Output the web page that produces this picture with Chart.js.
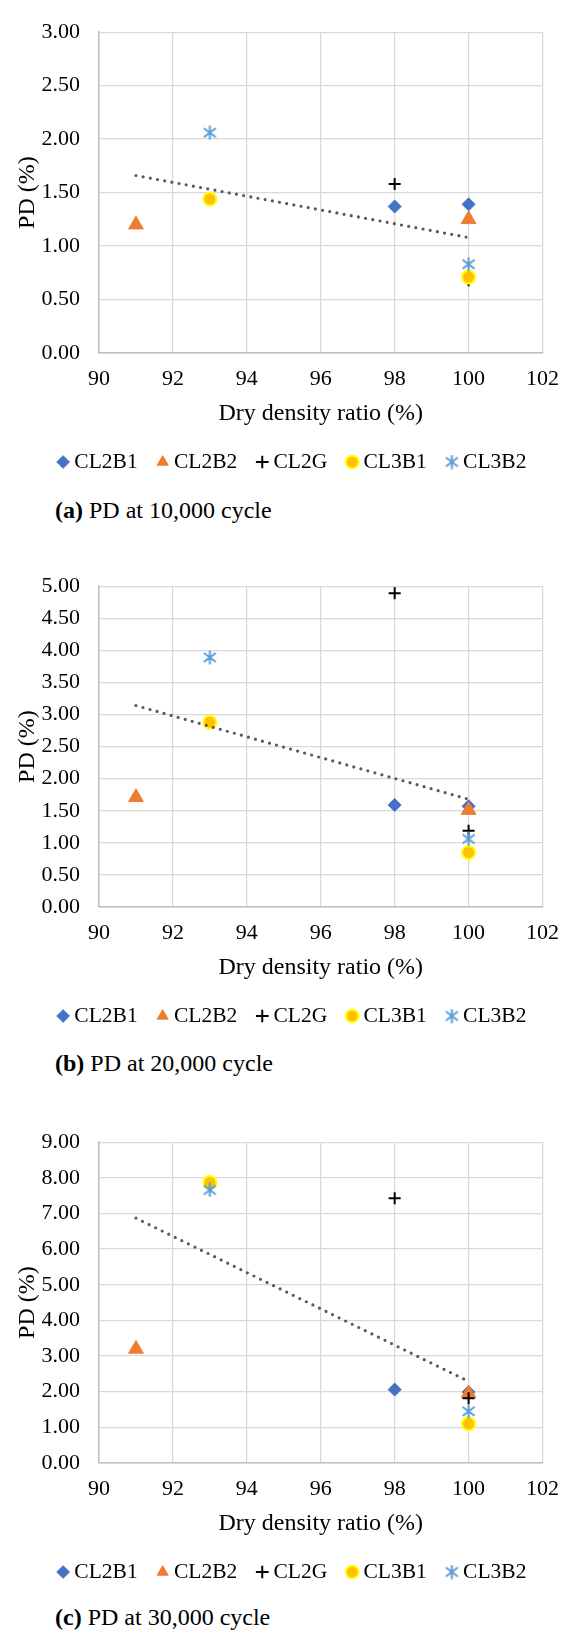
<!DOCTYPE html>
<html>
<head>
<meta charset="utf-8">
<script src="https://cdn.jsdelivr.net/npm/chart.js@4/dist/chart.umd.min.js"></script>
<style>
  body { margin: 0; background: #fff; }
  #page { position: relative; width: 572px; height: 1631px; overflow: hidden; }
  canvas { position: absolute; left: 0; }
  .cap { position: absolute; left: 55px; font-family: "Liberation Serif", serif; font-size: 24px; line-height: 28px; color: #000; white-space: nowrap; }
</style>
</head>
<body>
<div id="page">
  <canvas id="c1" width="572" height="490" style="top:0px"></canvas>
  <div class="cap" style="top:496px"><b>(a)</b> PD at 10,000 cycle</div>
  <canvas id="c2" width="572" height="490" style="top:554px"></canvas>
  <div class="cap" style="top:1049px"><b>(b)</b> PD at 20,000 cycle</div>
  <canvas id="c3" width="572" height="490" style="top:1110px"></canvas>
  <div class="cap" style="top:1603px"><b>(c)</b> PD at 30,000 cycle</div>
</div>
<script>
// series and their x positions (dry density ratio, %)
const seriesNames = ['CL2B1', 'CL2B2', 'CL2G', 'CL3B1', 'CL3B2'];
const seriesX = [[98, 100], [91, 100], [98, 100], [93, 100], [93, 100]];

// PD (%)
const pd10k = [[1.37, 1.39], [1.20, 1.25], [1.58, 0.68], [1.44, 0.71], [2.06, 0.83]];
const pd20k = [[1.59, 1.57], [1.71, 1.51], [4.89, 1.19], [2.88, 0.85], [3.89, 1.06]];
const pd30k = [[2.06, 1.99], [3.20, 1.95], [7.43, 1.82], [7.87, 1.10], [7.66, 1.45]];

// dotted trend line end points
const trendX = [91, 100];
const trend10k = [1.66, 1.08];
const trend20k = [3.14, 1.68];
const trend30k = [6.87, 2.29];

const xTicks = [90, 102, 2];
const yMaxes = [3, 5, 9];
const ySteps = [0.5, 0.5, 1];

const serif = 'Liberation Serif';

function makeAsterisk(color) {
  const c = document.createElement('canvas');
  c.width = 15; c.height = 15;
  const g = c.getContext('2d');
  g.strokeStyle = color;
  g.lineWidth = 2;
  g.beginPath();
  g.moveTo(7.5, 0.5); g.lineTo(7.5, 14.5);
  g.moveTo(1.5, 3); g.lineTo(13.5, 12);
  g.moveTo(13.5, 3); g.lineTo(1.5, 12);
  g.stroke();
  return c;
}

const markers = [
  { pointStyle: 'rectRot', pointRadius: 6.5, backgroundColor: '#4472C4', borderColor: '#4472C4', borderWidth: 1 },
  { pointStyle: 'triangle', pointRadius: 8.5, backgroundColor: '#ED7D31', borderColor: '#ED7D31', borderWidth: 1 },
  { pointStyle: 'cross', pointRadius: 6, backgroundColor: '#000', borderColor: '#000', borderWidth: 2 },
  { pointStyle: 'circle', pointRadius: 6.5, backgroundColor: '#FFC000', borderColor: '#FFFF00', borderWidth: 2 },
  { pointStyle: makeAsterisk('#5B9BD5'), pointRadius: 7, backgroundColor: '#5B9BD5', borderColor: '#5B9BD5', borderWidth: 2 }
];

function buildChart(id, values, trend, yMax, yStep) {
  const datasets = seriesNames.map((name, i) => ({
    label: name,
    data: seriesX[i].map((x, j) => ({ x: x, y: values[i][j] })),
    showLine: false,
    order: seriesNames.length - i,
    ...markers[i]
  }));
  datasets.push({
    label: 'trend',
    data: trendX.map((x, j) => ({ x: x, y: trend[j] })),
    showLine: true,
    pointRadius: 0,
    borderColor: '#595959',
    borderWidth: 3.2,
    borderDash: [0, 7.3],
    borderCapStyle: 'round',
    order: 0
  });

  return new Chart(document.getElementById(id), {
    type: 'scatter',
    data: { datasets: datasets },
    options: {
      responsive: false,
      animation: false,
      layout: { padding: { top: 17, right: 17, bottom: 7.25, left: 34 } },
      plugins: {
        tooltip: { enabled: false },
        legend: {
          position: 'bottom',
          labels: {
            usePointStyle: true,
            boxWidth: 1,
            boxHeight: 9,
            padding: 24.5,
            color: '#000',
            font: { family: serif, size: 21.5 },
            filter: (item) => item.text !== 'trend',
            sort: (a, b) => a.datasetIndex - b.datasetIndex
          }
        }
      },
      scales: {
        x: {
          type: 'linear',
          min: xTicks[0],
          max: xTicks[1],
          afterFit: (s) => { s.height = 73.75; },
          ticks: { stepSize: xTicks[2], padding: 13, color: '#000', font: { family: serif, size: 22 } },
          grid: { color: '#D9D9D9', lineWidth: 1.3, drawTicks: false },
          border: { color: '#BFBFBF', width: 1.5 },
          title: { display: true, text: 'Dry density ratio (%)', color: '#000', font: { family: serif, size: 24, lineHeight: 1 }, padding: { top: 0, bottom: 0.75 } }
        },
        y: {
          min: 0,
          max: yMax,
          afterFit: (s) => { s.width = 65; },
          ticks: { stepSize: yStep, autoSkip: false, padding: 19, color: '#000', font: { family: serif, size: 22 }, callback: (v) => v.toFixed(2) },
          grid: { color: '#D9D9D9', lineWidth: 1.3, drawTicks: false },
          border: { color: '#BFBFBF', width: 1.5 },
          title: { display: true, text: 'PD (%)', color: '#000', font: { family: serif, size: 24, lineHeight: 1 }, padding: { top: -18, bottom: 0 } }
        }
      }
    }
  });
}

buildChart('c1', pd10k, trend10k, yMaxes[0], ySteps[0]);
buildChart('c2', pd20k, trend20k, yMaxes[1], ySteps[1]);
buildChart('c3', pd30k, trend30k, yMaxes[2], ySteps[2]);
</script>
</body>
</html>
